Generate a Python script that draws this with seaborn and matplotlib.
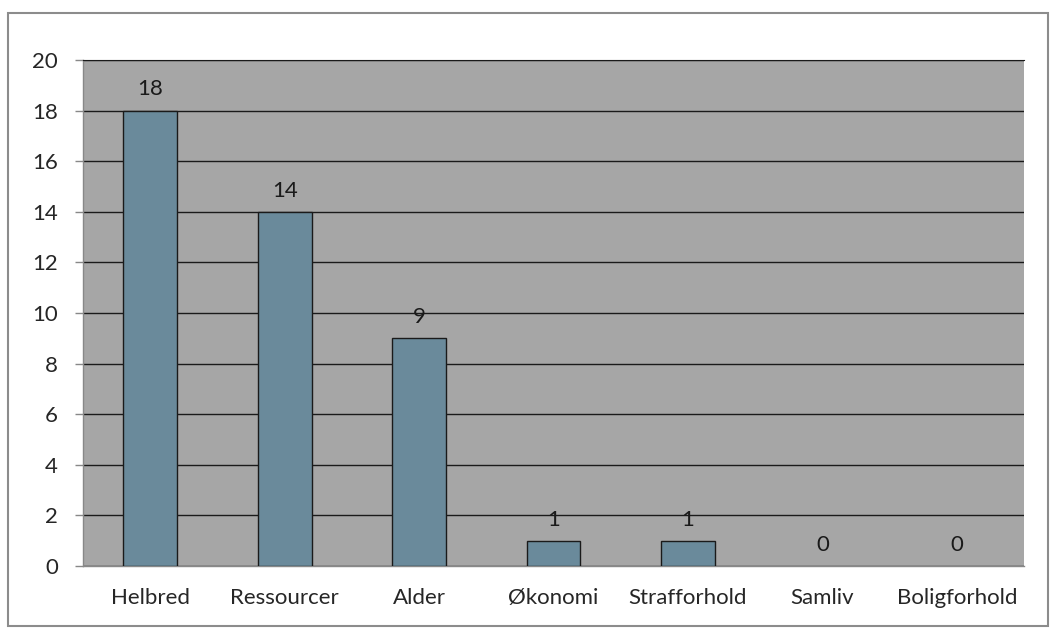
import matplotlib
matplotlib.use("Agg")
import matplotlib.pyplot as plt
from matplotlib.patches import Rectangle
import seaborn as sns
import pandas as pd
import numpy as np

# data
categories = ["Helbred", "Ressourcer", "Alder", "Økonomi", "Strafforhold", "Samliv", "Boligforhold"]
values = [18, 14, 9, 1, 1, 0, 0]
y_ticks = [0, 2, 4, 6, 8, 10, 12, 14, 16, 18, 20]

df = pd.DataFrame({"kategori": categories, "antal": values})

sns.set_style("white")
plt.rcParams["font.family"] = ["Lato", "DejaVu Sans"]

fig = plt.figure(figsize=(10.59, 6.37), dpi=100)
ax = fig.add_axes([0.0784, 0.1115, 0.8886, 0.7943])
ax.set_facecolor("#A6A6A6")

sns.barplot(data=df, x="kategori", y="antal", color="#6A8A9B", width=0.4,
            edgecolor="#1a1a1a", linewidth=1.0, saturation=1, ax=ax, zorder=3)

# no outline on empty bars
for bar, v in zip(ax.patches, values):
    if v == 0:
        bar.set_visible(False)

ax.set_ylim(0, 20)
ax.set_xlim(-0.5, len(categories) - 0.5)
ax.set_yticks(y_ticks)
ax.yaxis.grid(True, color="#1a1a1a", linewidth=1.0, zorder=0)
ax.set_axisbelow(True)
ax.set_xlabel("")
ax.set_ylabel("")

# tick marks at category boundaries
ax.set_xticks(np.arange(len(categories)))
ax.set_xticklabels(categories)
ax.set_xticks(np.arange(-0.5, len(categories)), minor=True)
ax.tick_params(axis="x", which="major", length=0, pad=16, labelsize=16)
ax.tick_params(axis="x", which="minor", length=6, color="#888888", width=1)
ax.tick_params(axis="y", length=6, color="#888888", width=1, labelsize=16, pad=12, left=True)

for s in ["left", "bottom"]:
    ax.spines[s].set_color("#888888")
    ax.spines[s].set_linewidth(1.0)
ax.spines["right"].set_visible(False)
ax.spines["top"].set_color("#1a1a1a")

for i, v in enumerate(values):
    ax.annotate(str(v), (i, v), xytext=(0, 8), textcoords="offset points",
                ha="center", va="bottom", fontsize=16, color="#1a1a1a")

# outer chart frame
fig.patches.append(Rectangle((8 / 1059, 1 - 626 / 637), 1040 / 1059, 613 / 637,
                             transform=fig.transFigure, fill=False,
                             edgecolor="#8c8c8c", linewidth=1.5))

fig.savefig("out.png", dpi=100)
